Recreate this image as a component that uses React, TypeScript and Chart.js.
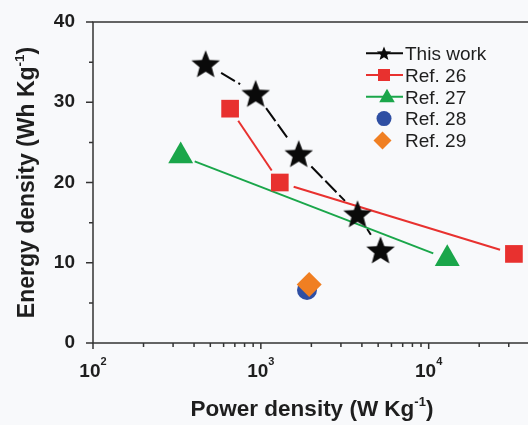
import React, { useEffect, useRef } from 'react';
import { Chart, registerables } from 'chart.js';

Chart.register(...registerables);

// ---------- data ----------
const seriesNames = ['This work', 'Ref. 26', 'Ref. 27', 'Ref. 28', 'Ref. 29'];
const thisWorkPower = [469, 931, 1682, 3767, 5164];
const thisWorkEnergy = [34.8, 31.1, 23.6, 16.1, 11.6];
const ref26Power = [656, 1297, 32200];
const ref26Energy = [29.2, 20.0, 11.1];
const ref27Power = [333, 12900];
const ref27Energy = [23.3, 10.5];
const ref28Power = [1884];
const ref28Energy = [6.6];
const ref29Power = [1941];
const ref29Energy = [7.3];
const xTickValues = [100, 1000, 10000];
const xTickBase = ['10', '10', '10'];
const xTickExponents = ['2', '3', '4'];
const yTickValues = [0, 10, 20, 30, 40];
const xTitle = ['Power density (W Kg', '-1', ')'];
const yTitle = ['Energy density (Wh Kg', '-1', ')'];

// ---------- styles ----------
const BG = '#f8f9fb';
const FONT = "'Liberation Sans', Arial, Helvetica, sans-serif";
const AXIS = '#333333';
const TEXT = '#1e1e1e';
const BLACK = '#0a0a0a';
const RED = '#e8312f';
const GREEN = '#1aa64a';
const BLUE = '#2f4fa3';
const ORANGE = '#f07f22';

const colors = [BLACK, RED, GREEN, BLUE, ORANGE];
const lineStyles = [
  { color: BLACK, width: 2, dash: [16, 4], gap: 18 },
  { color: RED, width: 2, dash: [] as number[], gap: 14.5 },
  { color: GREEN, width: 2, dash: [] as number[], gap: 15 },
];

function starPath(ctx: CanvasRenderingContext2D, cx: number, cy: number, R: number) {
  const r = R * 0.43;
  ctx.beginPath();
  for (let i = 0; i < 10; i++) {
    const rad = (Math.PI / 5) * i;
    const rr = i % 2 === 0 ? R : r;
    const px = cx + Math.sin(rad) * rr;
    const py = cy - Math.cos(rad) * rr;
    if (i === 0) ctx.moveTo(px, py);
    else ctx.lineTo(px, py);
  }
  ctx.closePath();
}

function makeStar(R: number, color: string) {
  const c = document.createElement('canvas');
  const s = Math.ceil(R * 2 + 2);
  c.width = s;
  c.height = s;
  const g = c.getContext('2d')!;
  g.fillStyle = color;
  starPath(g, s / 2, s / 2 + R * 0.095, R);
  g.fill();
  return c;
}

function pts(xs: number[], ys: number[]) {
  return xs.map((x, i) => ({ x, y: ys[i] }));
}

function drawRich(
  ctx: CanvasRenderingContext2D,
  parts: string[],
  cx: number,
  baseline: number,
  size: number,
  supSize: number,
  rise: number
) {
  const baseFont = `bold ${size}px ${FONT}`;
  const supFont = `bold ${supSize}px ${FONT}`;
  const widths = parts.map((p, i) => {
    ctx.font = i % 2 === 1 ? supFont : baseFont;
    return ctx.measureText(p).width;
  });
  const total = widths.reduce((a, b) => a + b, 0);
  let x = cx - total / 2;
  ctx.textAlign = 'left';
  ctx.textBaseline = 'alphabetic';
  parts.forEach((p, i) => {
    const sup = i % 2 === 1;
    ctx.font = sup ? supFont : baseFont;
    ctx.fillText(p, x, sup ? baseline - rise : baseline);
    x += widths[i];
  });
}

const bgPlugin = {
  id: 'bg',
  beforeDraw(chart: any) {
    const { ctx, width, height } = chart;
    ctx.save();
    ctx.fillStyle = BG;
    ctx.fillRect(0, 0, width, height);
    ctx.restore();
  },
};

const framePlugin = {
  id: 'frame',
  beforeDatasetsDraw(chart: any) {
    const { ctx, chartArea } = chart;
    const xs = chart.scales.x;
    const ys = chart.scales.y;
    const { left, right, top, bottom } = chartArea;
    ctx.save();
    ctx.strokeStyle = AXIS;
    ctx.lineWidth = 1.5;
    ctx.strokeRect(left, top, right - left, bottom - top);
    ctx.beginPath();
    for (let v = ys.min; v <= ys.max; v += 5) {
      const y = ys.getPixelForValue(v);
      const len = v % 10 === 0 ? 7 : 4;
      ctx.moveTo(left - len, y);
      ctx.lineTo(left, y);
    }
    for (let n = 2; n <= 4; n++) {
      for (let m = 1; m <= 9; m++) {
        const v = m * Math.pow(10, n);
        if (v < xs.min || v > xs.max) continue;
        const x = xs.getPixelForValue(v);
        const len = m === 1 ? 6 : 4;
        ctx.moveTo(x, bottom);
        ctx.lineTo(x, bottom + len);
      }
    }
    ctx.stroke();
    ctx.restore();
  },
};

const linesPlugin = {
  id: 'gapLines',
  beforeDatasetsDraw(chart: any) {
    const { ctx, chartArea } = chart;
    ctx.save();
    ctx.beginPath();
    ctx.rect(chartArea.left, chartArea.top, chartArea.right - chartArea.left, chartArea.bottom - chartArea.top);
    ctx.clip();
    lineStyles.forEach((st, i) => {
      const meta = chart.getDatasetMeta(i);
      const el = meta.data;
      ctx.strokeStyle = st.color;
      ctx.lineWidth = st.width;
      ctx.setLineDash(st.dash);
      for (let k = 0; k < el.length - 1; k++) {
        const a = el[k];
        const b = el[k + 1];
        const dx = b.x - a.x;
        const dy = b.y - a.y;
        const d = Math.hypot(dx, dy);
        if (d <= st.gap * 2) continue;
        const ux = dx / d;
        const uy = dy / d;
        ctx.beginPath();
        ctx.moveTo(a.x + ux * st.gap, a.y + uy * st.gap);
        ctx.lineTo(b.x - ux * st.gap, b.y - uy * st.gap);
        ctx.stroke();
      }
    });
    ctx.restore();
  },
};

const legendPlugin = {
  id: 'insideLegend',
  afterDatasetsDraw(chart: any) {
    const { ctx } = chart;
    const x0 = 366;
    const x1 = 403;
    const mx = 384;
    const tx = 405;
    const y0 = 53.2;
    const step = 21.8;
    ctx.save();
    seriesNames.forEach((name, i) => {
      const y = y0 + step * i;
      const c = colors[i];
      if (i < 3) {
        ctx.strokeStyle = c;
        ctx.lineWidth = 2;
        ctx.setLineDash([]);
        ctx.beginPath();
        ctx.moveTo(x0, y);
        ctx.lineTo(x1, y);
        ctx.stroke();
      }
      ctx.fillStyle = c;
      if (i === 0) {
        starPath(ctx, mx, y + 0.7, 7.5);
        ctx.fill();
      } else if (i === 1) {
        ctx.fillRect(mx - 6, y - 6, 12, 12);
      } else if (i === 2) {
        const r = 9;
        ctx.beginPath();
        for (let k = 0; k < 3; k++) {
          const rad = (2 * Math.PI / 3) * k;
          const px = mx + 3 + Math.sin(rad) * r;
          const py = y + 1 - Math.cos(rad) * r;
          if (k === 0) ctx.moveTo(px, py);
          else ctx.lineTo(px, py);
        }
        ctx.closePath();
        ctx.fill();
      } else if (i === 3) {
        ctx.beginPath();
        ctx.arc(mx, y, 7.5, 0, Math.PI * 2);
        ctx.fill();
      } else {
        const r = 9;
        ctx.beginPath();
        ctx.moveTo(mx - 1.5 - r, y);
        ctx.lineTo(mx - 1.5, y - r);
        ctx.lineTo(mx - 1.5 + r, y);
        ctx.lineTo(mx - 1.5, y + r);
        ctx.closePath();
        ctx.fill();
      }
      ctx.fillStyle = TEXT;
      ctx.font = `19px ${FONT}`;
      ctx.textAlign = 'left';
      ctx.textBaseline = 'alphabetic';
      ctx.fillText(name, tx, y + 6.8);
    });
    ctx.restore();
  },
};

const textPlugin = {
  id: 'axisText',
  afterDraw(chart: any) {
    const { ctx, chartArea } = chart;
    const xs = chart.scales.x;
    ctx.save();
    ctx.fillStyle = TEXT;
    // x tick labels with superscripts
    xTickValues.forEach((v, i) => {
      const x = xs.getPixelForValue(v);
      drawRich(ctx, [xTickBase[i], xTickExponents[i]], x, 377, 19, 11, 12);
    });
    // x title
    drawRich(ctx, xTitle, 312, 416, 22.5, 13, 10);
    // y title
    ctx.save();
    ctx.translate(33.5, (chartArea.top + chartArea.bottom) / 2);
    ctx.rotate(-Math.PI / 2);
    drawRich(ctx, yTitle, 0, 0, 23, 13.5, 10);
    ctx.restore();
    ctx.restore();
  },
};

export default function App() {
  const ref = useRef<HTMLCanvasElement>(null);
  useEffect(() => {
    document.body.style.margin = '0';
    const canvas = ref.current!;
    const star = makeStar(15, BLACK);
    const chart = new Chart(canvas, {
      type: 'scatter',
      data: {
        datasets: [
          {
            label: seriesNames[0],
            data: pts(thisWorkPower, thisWorkEnergy),
            pointStyle: star as any,
            pointRadius: 15,
            backgroundColor: BLACK,
            borderColor: BLACK,
            showLine: false,
            order: 2,
          },
          {
            label: seriesNames[1],
            data: pts(ref26Power, ref26Energy),
            pointStyle: 'rect',
            pointRadius: 12.5,
            pointBorderWidth: 0,
            backgroundColor: RED,
            borderColor: RED,
            showLine: false,
            order: 2,
          },
          {
            label: seriesNames[2],
            data: pts(ref27Power, ref27Energy),
            pointStyle: 'triangle',
            pointRadius: 14.4,
            pointBorderWidth: 0,
            backgroundColor: GREEN,
            borderColor: GREEN,
            showLine: false,
            order: 2,
          },
          {
            label: seriesNames[3],
            data: pts(ref28Power, ref28Energy),
            pointStyle: 'circle',
            pointRadius: 10,
            pointBorderWidth: 0,
            backgroundColor: BLUE,
            borderColor: BLUE,
            showLine: false,
            order: 1,
          },
          {
            label: seriesNames[4],
            data: pts(ref29Power, ref29Energy),
            pointStyle: 'rectRot',
            pointRadius: 12.5,
            pointBorderWidth: 0,
            backgroundColor: ORANGE,
            borderColor: ORANGE,
            showLine: false,
            order: 0,
          },
        ],
      },
      options: {
        animation: false,
        responsive: false,
        devicePixelRatio: 1,
        events: [],
        layout: { padding: { left: 0, right: 6, top: 22, bottom: 0 } },
        plugins: {
          legend: { display: false },
          tooltip: { enabled: false },
        },
        scales: {
          x: {
            type: 'logarithmic',
            min: 100,
            max: 50000,
            grid: { display: false, drawTicks: false },
            border: { display: false },
            ticks: { display: false },
            afterFit: (s: any) => {
              s.height = 82;
              s.paddingLeft = 0;
              s.paddingRight = 0;
            },
          },
          y: {
            min: 0,
            max: 40,
            grid: { display: false, drawTicks: false },
            border: { display: false },
            ticks: {
              stepSize: 5,
              autoSkip: false,
              padding: 18,
              color: TEXT,
              font: { family: FONT, size: 19, weight: 'bold' },
              callback: (v: any) => (yTickValues.includes(Number(v)) ? String(v) : ''),
            },
            afterFit: (s: any) => {
              s.width = 93;
              s.paddingTop = 0;
              s.paddingBottom = 0;
            },
          },
        },
      } as any,
      plugins: [bgPlugin, framePlugin, linesPlugin, legendPlugin, textPlugin],
    });
    return () => chart.destroy();
  }, []);
  return (
    <div
      style={{
        position: 'fixed',
        left: 0,
        top: 0,
        width: 528,
        height: 425,
        overflow: 'hidden',
        background: BG,
      }}
    >
      <canvas ref={ref} width={562} height={425} style={{ display: 'block', width: 562, height: 425 }} />
    </div>
  );
}
